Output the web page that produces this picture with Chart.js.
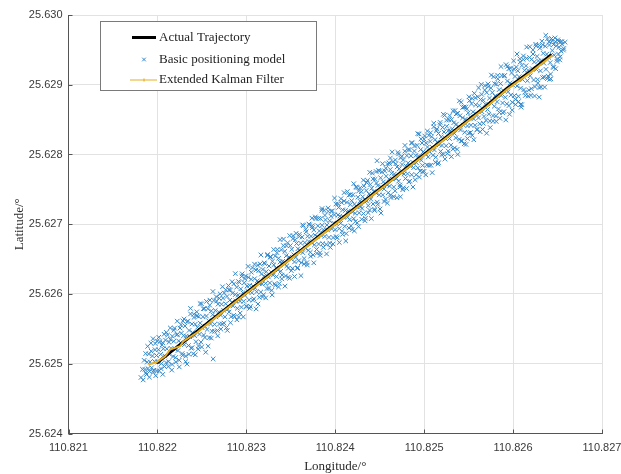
<!DOCTYPE html>
<html>
<head>
<meta charset="utf-8">
<script src="https://cdn.jsdelivr.net/npm/chart.js@4/dist/chart.umd.min.js"></script>
<style>
  html, body { margin: 0; padding: 0; background: #ffffff; }
  #wrap { width: 621px; height: 474px; }
</style>
</head>
<body>
<div id="wrap"><canvas id="c" width="621" height="474"></canvas></div>
<script>
// Coordinates below are stored in micro-degrees relative to these bases.
const LON0 = 110.82;
const LAT0 = 25.62;
const MICRO = 1e-6;

const lonTicks = [110.821, 110.822, 110.823, 110.824, 110.825, 110.826, 110.827];
const latTicks = [25.624, 25.625, 25.626, 25.627, 25.628, 25.629, 25.630];

const seriesNames = ['Actual Trajectory', 'Basic positioning model', 'Extended Kalman Filter'];

// Actual trajectory (micro-degrees)
const actualLonU = [1993, 2150, 2400, 2700, 3000, 3300, 3600, 3900, 4200, 4500, 4800, 5100, 5400, 5700, 5934, 6200, 6434];
const actualLatU = [5010, 5170, 5420, 5718, 6018, 6316, 6612, 6910, 7208, 7506, 7803, 8100, 8398, 8696, 8950, 9195, 9435];

// Extended Kalman Filter estimate (micro-degrees)
const ekfLonU = [1899, 1993, 2087, 2143, 2199, 2256, 2290, 2450, 2700, 3000, 3300, 3600, 3900, 4200, 4500, 4800, 5100, 5400, 5700, 5934, 6200, 6440];
const ekfLatU = [4988, 5025, 5107, 5204, 5227, 5251, 5320, 5452, 5708, 6006, 6304, 6600, 6898, 7196, 7494, 7791, 8088, 8386, 8682, 8935, 9178, 9420];

// Basic positioning model fixes [lon, lat] (micro-degrees)
const basicFixesU = [
[1815,4803],[1832,4920],[1840,4768],[1851,5049],[1860,4918],[1868,5146],[1877,4845],[1885,5023],[1893,4931],[1902,5140],[1910,4808],[1918,5026],[1927,5295],[1935,4943],[1944,5112],[1951,5359],[1958,4906],[1966,5034],[1973,5201],[1981,4829],[1990,5118],[1998,5326],[2006,5024],[2013,5201],[2021,4899],[2029,5317],[2037,5135],[2044,5002],[2052,5270],[2060,4848],[2067,5215],[2075,5423],[2083,5111],[2091,5339],[2098,5016],[2106,5214],[2114,5412],[2122,4960],[2130,5308],[2137,5135],[2145,5513],[2153,5221],[2161,4909],[2168,5396],[2176,5104],[2184,5322],[2192,5510],[2200,5208],[2207,5025],[2215,5413],[2223,5611],[2231,5189],[2239,5327],[2246,4954],[2254,5512],[2262,5300],[2270,5438],[2278,5146],[2286,5614],[2294,5402],
[2302,5274],[2310,5542],[2318,5110],[2325,5397],[2333,4995],[2341,5613],[2349,5261],[2356,5478],[2364,5386],[2372,5714],[2380,5222],[2388,5570],[2395,5447],[2403,5145],[2411,5664],[2419,5401],[2426,5568],[2434,5316],[2442,5744],[2450,5522],[2458,5210],[2465,5677],[2473,5425],[2481,5583],[2489,5311],[2497,5859],[2504,5516],[2512,5674],[2520,5412],[2528,5790],[2536,5538],[2543,5165],[2551,5684],[2559,5491],[2567,5789],[2575,5617],[2582,5374],[2590,5912],[2598,5570],[2606,5758],[2614,5466],[2621,5703],[2627,5069],[2635,5907],[2643,5565],[2651,5763],[2659,5671],[2666,5898],[2674,5476],[2682,5854],[2690,5742],[2698,5570],[2705,6002],[2713,5695],[2721,5853],[2729,5571],[2737,5939],[2744,5766],[2752,6014],[2760,5672],[2768,5860],[2776,5518],[2783,5965],[2791,5783],[2799,6121],
[2806,5742],[2814,5910],[2821,6057],[2829,5675],[2837,5883],[2845,6011],[2852,5828],[2860,6146],[2868,5674],[2876,5992],[2883,5899],[2891,6098],[2899,5795],[2907,5983],[2914,5670],[2922,6168],[2930,5896],[2938,6074],[2945,5811],[2953,6289],[2961,6017],[2969,5895],[2976,6162],[2984,5980],[2992,6258],[3000,5826],[3007,6113],[3015,6041],[3023,6239],[3031,5917],[3038,6124],[3046,5822],[3054,6210],[3062,6018],[3069,6375],[3077,6113],[3085,5931],[3093,6219],[3100,6086],[3108,6344],[3116,6032],[3124,6190],[3131,5857],[3139,6335],[3147,6153],[3155,6431],[3162,6028],[3170,6286],[3178,6144],[3186,6352],[3193,5989],[3201,6257],[3209,6435],[3217,6153],[3224,6320],[3232,6078],[3240,6566],[3248,6244],[3255,6401],[3263,6159],[3271,6527],[3279,6315],[3286,6052],[3294,6470],
[3301,6270],[3309,6418],[3317,6146],[3325,6544],[3332,6371],[3340,6249],[3348,6637],[3356,6345],[3363,6512],[3371,6150],[3379,6458],[3387,6326],[3394,6633],[3402,6271],[3410,6469],[3418,6787],[3425,6434],[3433,6612],[3441,6259],[3449,6548],[3456,6405],[3464,6733],[3472,6370],[3480,6529],[3487,6226],[3495,6694],[3503,6502],[3511,6640],[3518,6367],[3526,6835],[3534,6563],[3542,6460],[3549,6778],[3557,6526],[3565,6724],[3573,6369],[3580,6649],[3588,6477],[3596,6855],[3604,6623],[3611,6729],[3619,6448],[3627,6816],[3635,6593],[3642,6981],[3650,6509],[3658,6737],[3666,6655],[3673,6892],[3681,6450],[3689,6828],[3697,6626],[3704,6753],[3712,6991],[3720,6599],[3728,6827],[3735,6734],[3743,6952],[3751,6560],[3759,6918],[3766,6705],[3774,6843],[3782,7081],[3790,6639],[3797,6826],[3738,7087],[3851,7225],
[3805,6978],[3813,6716],[3821,6904],[3828,6591],[3836,7081],[3844,6837],[3852,6985],[3859,6722],[3867,6920],[3875,7198],[3883,6826],[3890,7063],[3898,6711],[3906,6989],[3914,6917],[3921,7184],[3929,6812],[3937,7050],[3945,6668],[3952,7115],[3960,6933],[3968,7191],[3976,6809],[3983,7016],[3991,7134],[3999,6922],[4007,7290],[4014,7007],[4022,6805],[4030,7133],[4038,7241],[4045,6938],[4053,7116],[4061,7014],[4069,7312],[4076,6899],[4084,7207],[4092,7105],[4100,7453],[4107,6970],[4115,7198],[4123,6866],[4131,7314],[4138,7101],[4146,7189],[4154,7417],[4162,7065],[4169,7282],[4177,6978],[4185,7338],[4193,7176],[4200,7423],[4208,7081],[4216,7289],[4224,7157],[4231,7534],[4239,7252],[4247,7020],[4255,7388],[4262,7475],[4270,7163],[4278,7331],[4286,7249],[4293,7466],[4215,6905],
[4301,7227],[4309,7395],[4317,7153],[4324,7550],[4332,7348],[4340,7086],[4348,7484],[4355,7331],[4363,7629],[4371,7267],[4379,7435],[4386,7202],[4394,7570],[4402,7358],[4410,7516],[4417,7733],[4425,7291],[4433,7469],[4441,7217],[4448,7644],[4456,7452],[4464,7590],[4472,7318],[4479,7555],[4487,7773],[4495,7421],[4503,7219],[4510,7666],[4518,7534],[4526,7752],[4534,7420],[4541,7607],[4549,7505],[4557,7763],[4565,7359],[4572,7688],[4580,7566],[4588,7864],[4596,7452],[4603,7649],[4611,7547],[4619,7785],[4627,7383],[4634,7730],[4642,7648],[4650,7896],[4658,7534],[4665,7721],[4673,7479],[4681,7867],[4689,7655],[4696,7822],[4704,8030],[4712,7618],[4720,7796],[4727,7563],[4735,7951],[4743,7739],[4751,7857],[4758,7494],[4766,7922],[4774,7720],[4782,8048],[4789,7655],[4797,7833],[4470,7911],[4620,7950],[4612,7870],[4733,7394],
[4805,7985],[4813,7723],[4820,7880],[4828,7608],[4836,8066],[4844,7834],[4851,7981],[4859,7709],[4867,8167],[4875,7885],[4882,7812],[4890,8050],[4898,7638],[4906,7986],[4913,7883],[4921,8131],[4929,7809],[4937,7977],[4944,8294],[4952,7762],[4960,8070],[4968,7918],[4975,8165],[4983,7843],[4991,8041],[4999,7759],[5006,8266],[5014,8014],[5022,8162],[5030,7850],[5037,8107],[5045,7965],[5053,8273],[5061,8041],[5068,8188],[5076,7846],[5084,8254],[5092,8102],[5099,7989],[5107,8397],[5115,8065],[5123,8213],[5130,7960],[5138,8338],[5146,8176],[5154,7864],[5161,8301],[5169,8139],[5177,8427],[5185,8045],[5192,8252],[5200,8130],[5208,8388],[5216,8004],[5223,8323],[5231,8561],[5239,8229],[5247,8126],[5254,8404],[5262,8012],[5270,8340],[5278,8498],[5285,8228],[5293,8333],
[5301,8134],[5309,8502],[5316,8369],[5324,8077],[5332,8455],[5340,8303],[5347,8630],[5355,8238],[5363,8436],[5371,8074],[5378,8591],[5386,8389],[5394,8217],[5402,8555],[5409,8352],[5417,8750],[5425,8195],[5433,8526],[5440,8423],[5448,8681],[5456,8319],[5464,8507],[5471,8144],[5479,8652],[5487,8410],[5495,8598],[5502,8305],[5510,8773],[5518,8541],[5526,8419],[5533,8726],[5541,8274],[5549,8612],[5557,8510],[5564,8877],[5572,8419],[5580,8713],[5588,8581],[5595,8358],[5603,8828],[5611,8525],[5619,8702],[5626,8440],[5634,8787],[5642,9005],[5650,8613],[5657,8360],[5665,8779],[5673,8546],[5681,8924],[5688,8721],[5696,8489],[5704,8887],[5712,8645],[5719,9012],[5727,8580],[5735,8808],[5743,8386],[5750,8953],[5758,8731],[5766,8889],[5774,8557],[5781,9114],[5789,8692],[5797,8840],
[5805,8552],[5812,9009],[5820,8757],[5828,9135],[5836,8653],[5843,8930],[5851,8518],[5859,9016],[5867,8844],[5874,9131],[5882,8739],[5890,8917],[5898,8615],[5905,9132],[5913,8820],[5921,9288],[5929,8726],[5936,9053],[5944,8901],[5952,9229],[5960,8577],[5967,9024],[5975,8852],[5983,9170],[5991,8748],[5998,8995],[6006,9343],[6014,8844],[6022,9119],[6029,8716],[6037,9254],[6045,8982],[6053,9200],[6060,8835],[6068,9115],[6076,9373],[6084,8951],[6091,8678],[6099,9276],[6107,9074],[6115,9362],[6122,8930],[6130,9207],[6138,8846],[6146,9273],[6153,9540],[6161,9058],[6169,9206],[6177,8924],[6184,9391],[6192,9129],[6200,8847],[6208,9365],[6215,9232],[6223,9500],[6231,9068],[6239,9326],[6246,8973],[6254,9581],[6262,9219],[6270,9407],[6277,9074],[6285,9342],[6293,8960],[6084,8717],[6294,8822],[6411,9076],
[6301,9523],[6308,9199],[6316,9347],[6324,9625],[6332,9103],[6339,9450],[6347,9308],[6355,8966],[6362,9553],[6370,9221],[6378,9439],[6386,9657],[6393,9124],[6401,9392],[6409,9570],[6417,9318],[6424,9085],[6432,9663],[6440,9491],[6448,9259],[6455,9576],[6463,9424],[6471,9672],[6479,9230],[6486,9557],[6494,9365],[6502,9643],[6510,9441],[6517,9538],[6525,9356],[6533,9614],[6541,9482],[6550,9581],[6570,9520],[6585,9610],
// outer part of the band
[1870,4870],[1890,5250],[1912,4890],[1930,5180],[1955,4880],[1975,5290],[1995,4900],[2015,5380],[2040,4930],[2060,5300],[2080,4960],[2100,5450],[2125,5030],[2145,5350],[2165,4990],[2185,5480],[2205,5090],[2225,5420],[2245,5050],[2265,5560],[2285,5120],
[2300,5642],[2318,5030],[2336,5600],[2354,5136],[2372,5794],[2390,5232],[2408,5710],[2426,5128],[2444,5686],[2462,5254],[2480,5862],[2498,5240],[2516,5788],[2534,5376],[2552,5894],[2570,5252],[2588,5840],[2606,5368],[2624,6036],[2642,5464],[2660,5962],[2678,5400],[2696,5938],[2714,5496],[2732,6104],[2750,5582],[2768,6060],[2786,5478],
[2804,6060],[2822,5588],[2840,6176],[2858,5694],[2876,6292],[2894,5630],[2912,6178],[2930,5726],[2948,6254],[2966,5672],[2984,6220],[3002,5818],[3020,6396],[3038,5794],[3056,6312],[3074,5910],[3092,6428],[3110,5786],[3128,6414],[3146,5952],[3164,6560],[3182,5958],[3200,6446],[3218,5944],[3236,6552],[3254,6080],[3272,6538],[3290,5986],
[3308,6637],[3326,6125],[3344,6593],[3362,6101],[3380,6779],[3398,6217],[3416,6695],[3434,6113],[3452,6691],[3470,6239],[3488,6837],[3506,6335],[3524,6793],[3542,6251],[3560,6869],[3578,6377],[3596,6825],[3614,6263],[3632,6991],[3650,6429],[3668,6927],[3686,6415],[3704,7003],[3722,6541],[3740,6979],[3758,6447],[3776,7105],[3794,6583],
[3812,7085],[3830,6553],[3848,7201],[3866,6669],[3884,7127],[3902,6575],[3920,7233],[3938,6731],[3956,7189],[3974,6717],[3992,7375],[4010,6823],[4028,7291],[4046,6739],[4064,7367],[4082,6855],[4100,7333],[4118,6761],[4136,7469],[4154,6947],[4172,7425],[4190,6923],[4208,7581],[4226,7039],[4244,7527],[4262,6965],[4280,7523],[4298,7071],
[4316,7632],[4334,7050],[4352,7598],[4370,7166],[4388,7744],[4406,7082],[4424,7650],[4442,7198],[4460,7756],[4478,7284],[4496,7762],[4514,7160],[4532,7868],[4550,7326],[4568,7804],[4586,7302],[4604,7880],[4622,7418],[4640,8036],[4658,7394],[4676,7922],[4694,7380],[4712,8008],[4730,7536],[4748,7974],[4766,7522],[4784,8130],
[4802,7512],[4820,8070],[4838,7618],[4856,8166],[4874,7534],[4892,8122],[4910,7710],[4928,8298],[4946,7676],[4964,8224],[4982,7752],[5000,8220],[5018,7708],[5036,8336],[5054,7844],[5072,8312],[5090,7740],[5108,8448],[5126,7886],[5144,8364],[5162,7882],[5180,8460],[5198,7998],[5216,8576],[5234,7934],[5252,8492],[5270,8050],[5288,8558],
[5306,7969],[5324,8627],[5342,8095],[5360,8583],[5378,8001],[5396,8769],[5414,8195],[5432,8675],[5450,8153],[5468,8681],[5486,8229],[5504,8827],[5522,8315],[5540,8803],[5558,8211],[5576,8812],[5594,8357],[5612,8955],[5630,8326],[5648,8861],[5666,8447],[5684,8987],[5702,8305],[5720,8973],[5738,8481],[5756,9139],[5774,8477],[5792,9015],
[5810,8474],[5828,9085],[5846,8603],[5864,9261],[5882,8599],[5900,9127],[5918,8495],[5936,9263],[5954,8701],[5972,9239],[5990,8637],[6008,9225],[6026,8790],[6044,9441],[6062,8759],[6080,9327],[6098,8715],[6116,9413],[6134,8891],[6152,9379],[6170,8837],[6188,9545],[6206,8943],[6224,9441],[6242,8839],[6260,9557],[6278,9025],[6296,9563],
[6314,8965],[6332,9573],[6350,9111],[6368,9709],[6386,9087],[6404,9615],[6422,9153],[6440,9631],[6458,9249],[6476,9617],[6494,9335],[6512,9623],[6530,9401],[6548,9619],[6566,9497]
];

const toPoint = (lonU, latU) => ({ x: LON0 + lonU * MICRO, y: LAT0 + latU * MICRO });

const actualPts = actualLonU.map((v, i) => toPoint(v, actualLatU[i]));
const ekfPts = ekfLonU.map((v, i) => toPoint(v, ekfLatU[i]));
const basicPts = basicFixesU.map(p => toPoint(p[0], p[1]));

const COL_BLUE = '#3389cb';
const COL_YELLOW = '#E8B020';
const COL_AXIS = '#555555';
const COL_GRID = '#e2e2e2';
const COL_TEXT = '#3a3a3a';

// Inward tick marks on the left and bottom axes
const innerTicks = {
  id: 'innerTicks',
  beforeDatasetsDraw(chart) {
    const { ctx, chartArea: a, scales: { x, y } } = chart;
    ctx.save();
    ctx.strokeStyle = COL_AXIS;
    ctx.lineWidth = 1;
    ctx.beginPath();
    lonTicks.forEach(v => {
      const px = Math.round(x.getPixelForValue(v)) + 0.5;
      ctx.moveTo(px, a.bottom);
      ctx.lineTo(px, a.bottom - 4);
    });
    latTicks.forEach(v => {
      const py = Math.round(y.getPixelForValue(v)) + 0.5;
      ctx.moveTo(a.left, py);
      ctx.lineTo(a.left + 4, py);
    });
    ctx.stroke();
    ctx.restore();
  }
};

// Boxed legend in the upper-left of the plot
const boxLegend = {
  id: 'boxLegend',
  afterDraw(chart) {
    const ctx = chart.ctx;
    ctx.save();
    ctx.fillStyle = '#ffffff';
    ctx.strokeStyle = '#7a7a7a';
    ctx.lineWidth = 1;
    ctx.fillRect(100.5, 21.5, 216, 69);
    ctx.strokeRect(100.5, 21.5, 216, 69);

    const rows = [37.5, 59.5, 80];
    // Actual trajectory sample
    ctx.strokeStyle = '#000000';
    ctx.lineWidth = 3;
    ctx.beginPath();
    ctx.moveTo(132, rows[0]); ctx.lineTo(156, rows[0]);
    ctx.stroke();
    // Basic positioning model sample
    ctx.strokeStyle = COL_BLUE;
    ctx.lineWidth = 1;
    ctx.beginPath();
    ctx.moveTo(142.2, rows[1] - 1.8); ctx.lineTo(145.8, rows[1] + 1.8);
    ctx.moveTo(145.8, rows[1] - 1.8); ctx.lineTo(142.2, rows[1] + 1.8);
    ctx.stroke();
    // EKF sample
    ctx.strokeStyle = COL_YELLOW;
    ctx.lineWidth = 1.2;
    ctx.beginPath();
    ctx.moveTo(130, rows[2]); ctx.lineTo(157, rows[2]);
    ctx.moveTo(144, rows[2] - 1.5); ctx.lineTo(144, rows[2] + 1.5);
    ctx.stroke();

    ctx.fillStyle = '#1e1e1e';
    ctx.font = '13px "Liberation Serif", "Times New Roman", serif';
    ctx.textAlign = 'left';
    ctx.textBaseline = 'middle';
    seriesNames.forEach((t, i) => ctx.fillText(t, 159, rows[i]));
    ctx.restore();
  }
};

const tickFont = { family: '"Liberation Sans", Arial, sans-serif', size: 11 };
const titleFont = { family: '"Liberation Serif", "Times New Roman", serif', size: 13 };

new Chart(document.getElementById('c'), {
  type: 'scatter',
  data: {
    datasets: [
      {
        label: seriesNames[2],
        data: ekfPts,
        showLine: true,
        borderColor: COL_YELLOW,
        borderWidth: 2,
        pointRadius: 0,
        tension: 0,
        order: 1
      },
      {
        label: seriesNames[0],
        data: actualPts,
        showLine: true,
        borderColor: '#000000',
        borderWidth: 3,
        pointRadius: 0,
        tension: 0,
        order: 2
      },
      {
        label: seriesNames[1],
        data: basicPts,
        showLine: false,
        pointStyle: 'crossRot',
        pointRadius: 3.2,
        pointBorderWidth: 1,
        borderColor: COL_BLUE,
        backgroundColor: COL_BLUE,
        order: 3
      }
    ]
  },
  options: {
    responsive: false,
    animation: false,
    devicePixelRatio: 1,
    layout: { padding: { top: 15, right: 19, bottom: 0, left: 0 } },
    plugins: { legend: { display: false }, tooltip: { enabled: false } },
    scales: {
      x: {
        type: 'linear',
        min: lonTicks[0],
        max: lonTicks[lonTicks.length - 1],
        afterBuildTicks: s => { s.ticks = lonTicks.map(v => ({ value: v })); },
        afterFit: s => { s.height = 40.5; s.paddingLeft = 0; s.paddingRight = 0; },
        ticks: {
          callback: v => Number(v).toFixed(3),
          font: tickFont, color: COL_TEXT, padding: 8,
          maxRotation: 0, autoSkip: false
        },
        grid: { color: COL_GRID, drawTicks: false, lineWidth: 1 },
        border: { color: COL_AXIS, width: 1 },
        title: { display: true, text: 'Longitude/°', font: titleFont, color: '#2a2a2a', padding: { top: 0, bottom: 0 } }
      },
      y: {
        type: 'linear',
        min: latTicks[0],
        max: latTicks[latTicks.length - 1],
        afterBuildTicks: s => { s.ticks = latTicks.map(v => ({ value: v })); },
        afterFit: s => { s.width = 68.5; s.paddingTop = 0; s.paddingBottom = 0; },
        ticks: {
          callback: v => Number(v).toFixed(3),
          font: tickFont, color: COL_TEXT, padding: 6, autoSkip: false
        },
        grid: { color: COL_GRID, drawTicks: false, lineWidth: 1 },
        border: { color: COL_AXIS, width: 1 },
        title: { display: true, text: 'Latitude/°', font: titleFont, color: '#2a2a2a', padding: { top: 12, bottom: 0 } }
      }
    }
  },
  plugins: [innerTicks, boxLegend]
});
</script>
</body>
</html>
